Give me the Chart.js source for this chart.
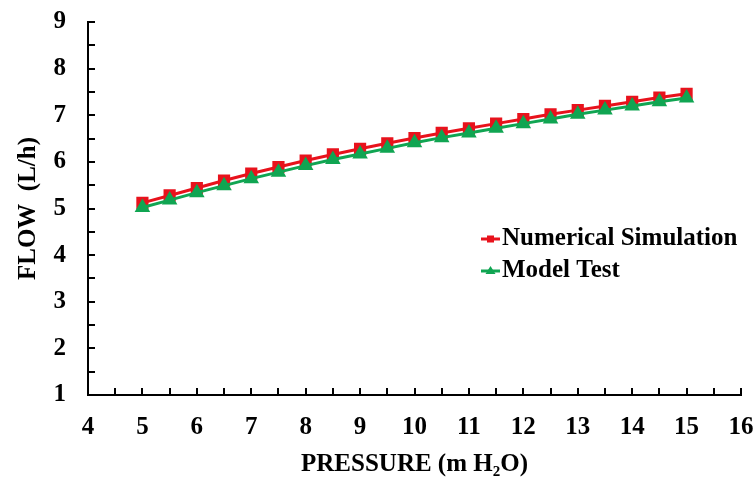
<!DOCTYPE html>
<html lang="en">
<head>
    <meta charset="UTF-8">
    <title>Flow vs Pressure</title>
    <script src="https://cdn.jsdelivr.net/npm/chart.js"></script>
    <style>
        body { margin: 0; background: #fff; }
        #wrap { width: 754px; height: 480px; }
    </style>
</head>
<body>
    <div id="wrap"><canvas id="flowChart" width="754" height="480"></canvas></div>

    <script>
        // data
        const pressure = [5, 5.5, 6, 6.5, 7, 7.5, 8, 8.5, 9, 9.5, 10, 10.5, 11, 11.5, 12, 12.5, 13, 13.5, 14, 14.5, 15];
        const numericalSim = [5.12, 5.28, 5.44, 5.60, 5.75, 5.89, 6.03, 6.16, 6.28, 6.40, 6.51, 6.62, 6.72, 6.82, 6.92, 7.02, 7.11, 7.20, 7.29, 7.38, 7.46];
        const modelTest = [5.02, 5.18, 5.34, 5.49, 5.64, 5.78, 5.92, 6.05, 6.17, 6.29, 6.41, 6.52, 6.62, 6.72, 6.82, 6.92, 7.02, 7.11, 7.20, 7.29, 7.37];
        const seriesNames = ['Numerical Simulation', 'Model Test'];
        const xTickValues = [4, 5, 6, 7, 8, 9, 10, 11, 12, 13, 14, 15, 16];
        const yTickValues = [1, 2, 3, 4, 5, 6, 7, 8, 9];

        const serif = "'Liberation Serif', 'Times New Roman', serif";
        const RED = '#e8121c';
        const GREEN = '#10a552';
        const FONT_SIZE = 25;

        // inward ticks (major + minor at half steps)
        const innerTicks = {
            id: 'innerTicks',
            afterDraw(chart) {
                const ctx = chart.ctx;
                const x = chart.scales.x, y = chart.scales.y;
                ctx.save();
                ctx.strokeStyle = '#000';
                ctx.lineWidth = 2;
                for (let v = x.min; v <= x.max; v += 0.5) {
                    const px = Math.round(x.getPixelForValue(v));
                    ctx.beginPath();
                    ctx.moveTo(px, y.bottom);
                    ctx.lineTo(px, y.bottom - 7);
                    ctx.stroke();
                }
                for (let v = y.min; v <= y.max; v += 0.5) {
                    const py = Math.round(y.getPixelForValue(v));
                    ctx.beginPath();
                    ctx.moveTo(x.left, py);
                    ctx.lineTo(x.left + 7, py);
                    ctx.stroke();
                }
                ctx.restore();
            }
        };

        // legend inside the plot area
        const innerLegend = {
            id: 'innerLegend',
            afterDraw(chart) {
                const ctx = chart.ctx;
                ctx.save();
                ctx.font = 'bold ' + FONT_SIZE + 'px ' + serif;
                ctx.textBaseline = 'middle';
                chart.data.datasets.forEach((ds, i) => {
                    const yy = 239 + i * 32;
                    ctx.strokeStyle = ds.borderColor;
                    ctx.lineWidth = 3;
                    ctx.beginPath();
                    ctx.moveTo(481, yy);
                    ctx.lineTo(500, yy);
                    ctx.stroke();
                    ctx.fillStyle = ds.borderColor;
                    if (ds.pointStyle === 'rect') {
                        ctx.fillRect(487, yy - 3.5, 7, 7);
                    } else {
                        ctx.beginPath();
                        ctx.moveTo(490.5, yy - 5);
                        ctx.lineTo(495.5, yy + 3);
                        ctx.lineTo(485.5, yy + 3);
                        ctx.closePath();
                        ctx.fill();
                    }
                    ctx.fillStyle = '#000';
                    ctx.fillText(ds.label, 502, yy);
                });
                ctx.restore();
            }
        };

        const ctx = document.getElementById('flowChart').getContext('2d');
        new Chart(ctx, {
            type: 'line',
            data: {
                datasets: [
                    {
                        label: seriesNames[0],
                        data: pressure.map((p, i) => ({ x: p, y: numericalSim[i] })),
                        borderColor: RED,
                        backgroundColor: RED,
                        borderWidth: 3,
                        pointStyle: 'rect',
                        pointRadius: 6.5,
                        order: 1
                    },
                    {
                        label: seriesNames[1],
                        data: pressure.map((p, i) => ({ x: p, y: modelTest[i] })),
                        borderColor: GREEN,
                        backgroundColor: GREEN,
                        borderWidth: 3,
                        pointStyle: 'triangle',
                        pointRadius: 6,
                        order: 0
                    }
                ]
            },
            options: {
                responsive: false,
                animation: false,
                layout: { padding: { left: 0, right: 13, top: 22, bottom: 0 } },
                plugins: {
                    legend: { display: false },
                    tooltip: { enabled: false }
                },
                scales: {
                    x: {
                        type: 'linear',
                        min: 4,
                        max: 16,
                        afterFit: s => { s.height = 85; s.paddingLeft = 0; s.paddingRight = 0; },
                        afterBuildTicks: s => { s.ticks = xTickValues.map(v => ({ value: v })); },
                        grid: { display: false, drawTicks: false },
                        border: { display: true, color: '#000', width: 2 },
                        ticks: {
                            color: '#000',
                            padding: 18,
                            maxRotation: 0,
                            font: { family: serif, size: FONT_SIZE, weight: 'bold' }
                        },
                        title: {
                            display: true,
                            text: 'PRESSURE (m H\u2082O)',
                            color: '#000',
                            padding: { top: 0, bottom: 0 },
                            font: { family: serif, size: FONT_SIZE, weight: 'bold' }
                        }
                    },
                    y: {
                        min: 1,
                        max: 9,
                        afterFit: s => { s.width = 88; s.paddingTop = 0; s.paddingBottom = 0; },
                        afterBuildTicks: s => { s.ticks = yTickValues.map(v => ({ value: v })); },
                        grid: { display: false, drawTicks: false },
                        border: { display: true, color: '#000', width: 2 },
                        ticks: {
                            color: '#000',
                            padding: 22,
                            font: { family: serif, size: FONT_SIZE, weight: 'bold' }
                        },
                        title: {
                            display: true,
                            text: 'FLOW  (L/h)',
                            color: '#000',
                            padding: { top: 14, bottom: 0 },
                            font: { family: serif, size: FONT_SIZE, weight: 'bold' }
                        }
                    }
                }
            },
            plugins: [innerTicks, innerLegend]
        });
    </script>
</body>
</html>
